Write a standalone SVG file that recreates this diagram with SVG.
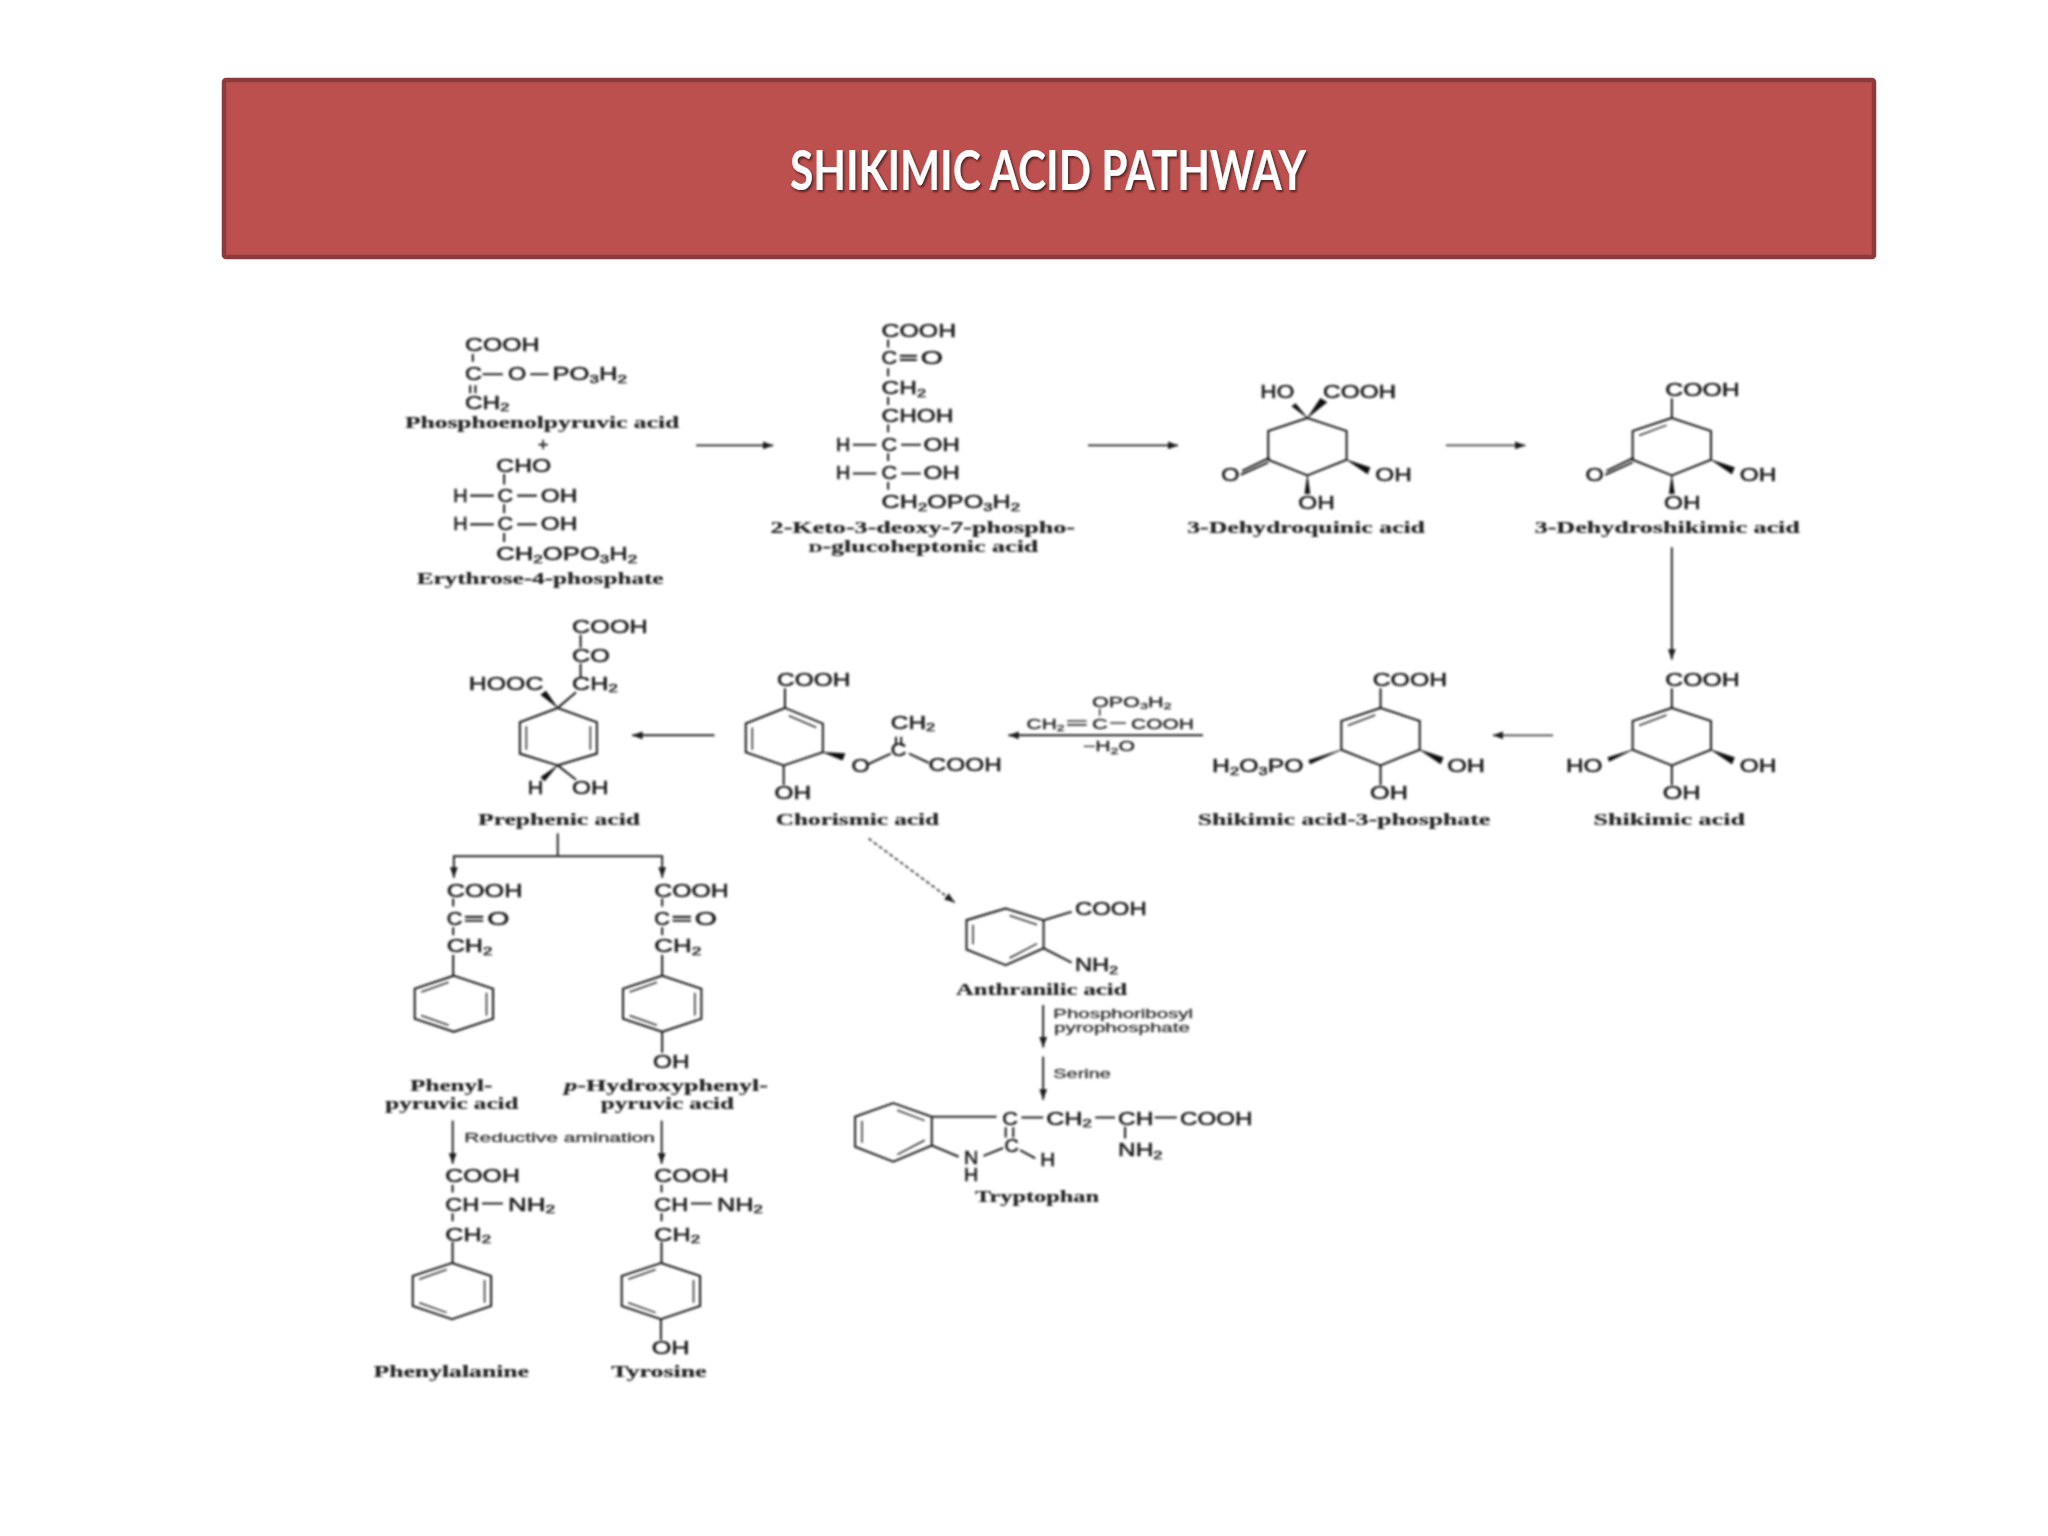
<svg xmlns="http://www.w3.org/2000/svg" width="2048" height="1536" viewBox="0 0 2048 1536">
<style>
.f{font-family:"Liberation Sans",Arial,sans-serif;font-size:13.5px;fill:#1c1c1c;stroke:#1c1c1c;stroke-width:.4px}
.m{font-family:"Liberation Sans",Arial,sans-serif;font-size:10.5px;fill:#222;stroke:#222;stroke-width:.25px}
.a{font-family:"Liberation Sans",Arial,sans-serif;font-size:9.5px;fill:#333;stroke:#333;stroke-width:.25px}
.l{font-family:"Liberation Serif","Times New Roman",serif;font-weight:700;font-size:13.5px;fill:#222;stroke:#222;stroke-width:.15px}
.b{fill:none;stroke:#222;stroke-width:1.6}
.t{fill:none;stroke:#333;stroke-width:1.2}
.w{fill:#111;stroke:#111;stroke-width:.4}
.c{fill:none;stroke:#222;stroke-width:1.5}
.g{fill:none;stroke:#444;stroke-width:1.4}
.title{font-family:Lato,"Open Sans",sans-serif;font-weight:700;font-size:56px;fill:#fff}
</style>
<defs>
<filter id="soft" x="-5%" y="-5%" width="110%" height="110%"><feGaussianBlur stdDeviation="0.7"/></filter>
<filter id="sh" x="-5%" y="-20%" width="110%" height="140%"><feDropShadow dx="1.5" dy="2" stdDeviation="1" flood-color="#3a1010" flood-opacity=".8"/></filter>
<marker id="ah" markerUnits="userSpaceOnUse" markerWidth="9" markerHeight="7" refX="8" refY="3" orient="auto"><path d="M0 0L8 3L0 6Z" fill="#1c1c1c"/></marker>
<polygon id="ring" class="b" points="0,0 30,10 30,32 0,44 -30,32 -30,10"/>
<path id="enedb" class="t" d="M-4 5.500L-25 13.500"/>
<g id="phenyl"><polygon class="b" points="0,0 30,10 30,33 0,43 -30,33 -30,10"/><path class="t" d="M-4 5L-25 12.500M25 13V30.500M-4 38L-25 30.500"/></g>
</defs>
<rect width="2048" height="1536" fill="#fff"/>
<g id="banner">
<rect x="224" y="80" width="1650" height="177" rx="2" fill="#BC504E" stroke="#8C3A3B" stroke-width="4.5"/>
<text class="title" x="790" y="190" textLength="516" lengthAdjust="spacingAndGlyphs" filter="url(#sh)">SHIKIMIC ACID PATHWAY</text>
</g>
<g transform="scale(1.3061)" filter="url(#soft)">
<g id="connectors">
<path class="c" d="M533 341H592" marker-end="url(#ah)"/>
<path class="c" d="M833 341H902" marker-end="url(#ah)"/>
<path class="g" d="M1107 341H1168" marker-end="url(#ah)"/>
<path class="c" d="M1280 419V505" marker-end="url(#ah)"/>
<path class="g" d="M1189 563H1143" marker-end="url(#ah)"/>
<path class="c" d="M921 563H772" marker-end="url(#ah)"/>
<path class="c" d="M547 563H484" marker-end="url(#ah)"/>
<path class="c" d="M427 638V655.500"/>
<path class="c" d="M427 655.500H347.500V672" marker-end="url(#ah)"/>
<path class="c" d="M427 655.500H507V672" marker-end="url(#ah)"/>
<path class="g" stroke-dasharray="3 2" d="M665 642L731 691" marker-end="url(#ah)"/>
<path class="c" d="M346.600 858V891" marker-end="url(#ah)"/>
<path class="c" d="M506.600 858V891" marker-end="url(#ah)"/>
<path class="c" d="M798.700 769.500V802" marker-end="url(#ah)"/>
<path class="c" d="M798.700 809V842" marker-end="url(#ah)"/>
</g>
<g id="pep">
<path class="b" d="M362 271V277M360 295V301M364 295V301M369.500 286.500H385M406 286.500H420"/>
<text class="f" x="356" y="269" textLength="57" lengthAdjust="spacingAndGlyphs">COOH</text>
<text class="f" x="356" y="291" textLength="13" lengthAdjust="spacingAndGlyphs">C</text>
<text class="f" x="389" y="291" textLength="14" lengthAdjust="spacingAndGlyphs">O</text>
<text class="f" x="423" y="291" textLength="57" lengthAdjust="spacingAndGlyphs">PO<tspan font-size="9" dy="2">3</tspan><tspan dy="-2">H</tspan><tspan font-size="9" dy="2">2</tspan></text>
<text class="f" x="356" y="313" textLength="34" lengthAdjust="spacingAndGlyphs">CH<tspan font-size="9" dy="2">2</tspan></text>
<text class="l" x="310" y="328" textLength="210" lengthAdjust="spacingAndGlyphs">Phosphoenolpyruvic acid</text>
<text class="f" x="412" y="345" font-size="11">+</text>
</g>
<g id="e4p">
<path class="b" d="M386 363V371M386 386V393M386 408V415M360 379.500H378M396 379.500H411M360 401.500H378M396 401.500H411"/>
<text class="f" x="380" y="361" textLength="42" lengthAdjust="spacingAndGlyphs">CHO</text>
<text class="f" x="347" y="384" textLength="11" lengthAdjust="spacingAndGlyphs">H</text>
<text class="f" x="381" y="384" textLength="12" lengthAdjust="spacingAndGlyphs">C</text>
<text class="f" x="414" y="384" textLength="28" lengthAdjust="spacingAndGlyphs">OH</text>
<text class="f" x="347" y="406" textLength="11" lengthAdjust="spacingAndGlyphs">H</text>
<text class="f" x="381" y="406" textLength="12" lengthAdjust="spacingAndGlyphs">C</text>
<text class="f" x="414" y="406" textLength="28" lengthAdjust="spacingAndGlyphs">OH</text>
<text class="f" x="380" y="429" textLength="108" lengthAdjust="spacingAndGlyphs">CH<tspan font-size="9" dy="2">2</tspan><tspan dy="-2">OPO</tspan><tspan font-size="9" dy="2">3</tspan><tspan dy="-2">H</tspan><tspan font-size="9" dy="2">2</tspan></text>
<text class="l" x="319" y="447" textLength="189" lengthAdjust="spacingAndGlyphs">Erythrose-4-phosphate</text>
</g>
<g id="kdpg">
<path class="b" d="M680 260V266M689 272.500H702M689 275.500H702M680 282V288M680 304V310M680 325V331M680 347V353M680 369V375M653 340.500H671M690 340.500H705M653 362.500H671M690 362.500H705"/>
<text class="f" x="675" y="258" textLength="57" lengthAdjust="spacingAndGlyphs">COOH</text>
<text class="f" x="675" y="279" textLength="12" lengthAdjust="spacingAndGlyphs">C</text>
<text class="f" x="705" y="279" textLength="17" lengthAdjust="spacingAndGlyphs">O</text>
<text class="f" x="675" y="302" textLength="34" lengthAdjust="spacingAndGlyphs">CH<tspan font-size="9" dy="2">2</tspan></text>
<text class="f" x="675" y="323" textLength="55" lengthAdjust="spacingAndGlyphs">CHOH</text>
<text class="f" x="640" y="345" textLength="11" lengthAdjust="spacingAndGlyphs">H</text>
<text class="f" x="675" y="345" textLength="12" lengthAdjust="spacingAndGlyphs">C</text>
<text class="f" x="707" y="345" textLength="28" lengthAdjust="spacingAndGlyphs">OH</text>
<text class="f" x="640" y="367" textLength="11" lengthAdjust="spacingAndGlyphs">H</text>
<text class="f" x="675" y="367" textLength="12" lengthAdjust="spacingAndGlyphs">C</text>
<text class="f" x="707" y="367" textLength="28" lengthAdjust="spacingAndGlyphs">OH</text>
<text class="f" x="675" y="389" textLength="106" lengthAdjust="spacingAndGlyphs">CH<tspan font-size="9" dy="2">2</tspan><tspan dy="-2">OPO</tspan><tspan font-size="9" dy="2">3</tspan><tspan dy="-2">H</tspan><tspan font-size="9" dy="2">2</tspan></text>
<text class="l" x="590" y="408" textLength="233" lengthAdjust="spacingAndGlyphs">2-Keto-3-deoxy-7-phospho-</text>
<text class="l" x="619" y="423" textLength="176" lengthAdjust="spacingAndGlyphs"><tspan font-size="10">D</tspan>-glucoheptonic acid</text>
</g>
<g id="dehydroquinic">
<use href="#ring" x="1001" y="320"/>
<path class="w" d="M1001 320L992 309L989 311ZM1001 320L1016 308L1011 305Z"/>
<path class="w" d="M1031 352L1049 358L1047 363ZM1001 364L1003 378H999Z"/>
<path class="b" d="M972 350.500L951 360.500M971 354L950 363.500"/>
<text class="f" x="965" y="305" textLength="26" lengthAdjust="spacingAndGlyphs">HO</text>
<text class="f" x="1013" y="305" textLength="56" lengthAdjust="spacingAndGlyphs">COOH</text>
<text class="f" x="935" y="368" textLength="14" lengthAdjust="spacingAndGlyphs">O</text>
<text class="f" x="1053" y="368" textLength="28" lengthAdjust="spacingAndGlyphs">OH</text>
<text class="f" x="994" y="390" textLength="28" lengthAdjust="spacingAndGlyphs">OH</text>
<text class="l" x="909" y="408" textLength="182" lengthAdjust="spacingAndGlyphs">3-Dehydroquinic acid</text>
</g>
<g id="dehydroshikimic">
<use href="#ring" x="1280" y="320"/><use href="#enedb" x="1280" y="320"/>
<path class="b" d="M1280 320V305"/>
<path class="w" d="M1310 352L1328 358L1326 363ZM1280 364L1282 378H1278Z"/>
<path class="b" d="M1251 350.500L1230 360.500M1250 354L1229 363.500"/>
<text class="f" x="1275" y="303" textLength="57" lengthAdjust="spacingAndGlyphs">COOH</text>
<text class="f" x="1214" y="368" textLength="14" lengthAdjust="spacingAndGlyphs">O</text>
<text class="f" x="1332" y="368" textLength="28" lengthAdjust="spacingAndGlyphs">OH</text>
<text class="f" x="1274" y="390" textLength="28" lengthAdjust="spacingAndGlyphs">OH</text>
<text class="l" x="1175" y="408" textLength="203" lengthAdjust="spacingAndGlyphs">3-Dehydroshikimic acid</text>
</g>
<g id="shikimic">
<use href="#ring" x="1280" y="542"/><use href="#enedb" x="1280" y="542"/>
<path class="b" d="M1280 542V527M1280 586V601"/>
<path class="w" d="M1310 574L1328 580L1326 585ZM1250 574L1232 583L1231 580Z"/>
<text class="f" x="1275" y="525" textLength="57" lengthAdjust="spacingAndGlyphs">COOH</text>
<text class="f" x="1199" y="591" textLength="28" lengthAdjust="spacingAndGlyphs">HO</text>
<text class="f" x="1332" y="591" textLength="28" lengthAdjust="spacingAndGlyphs">OH</text>
<text class="f" x="1273" y="612" textLength="29" lengthAdjust="spacingAndGlyphs">OH</text>
<text class="l" x="1220" y="632" textLength="116" lengthAdjust="spacingAndGlyphs">Shikimic acid</text>
</g>
<g id="shikimate3p">
<use href="#ring" x="1057" y="542"/><use href="#enedb" x="1057" y="542"/>
<path class="b" d="M1057 542V527M1057 586V601"/>
<path class="w" d="M1087 574L1105 580L1103 585ZM1027 574L1003 585L1002 582Z"/>
<text class="f" x="1051" y="525" textLength="57" lengthAdjust="spacingAndGlyphs">COOH</text>
<text class="f" x="928" y="591" textLength="70" lengthAdjust="spacingAndGlyphs">H<tspan font-size="9" dy="2">2</tspan><tspan dy="-2">O</tspan><tspan font-size="9" dy="2">3</tspan><tspan dy="-2">PO</tspan></text>
<text class="f" x="1108" y="591" textLength="29" lengthAdjust="spacingAndGlyphs">OH</text>
<text class="f" x="1049" y="612" textLength="29" lengthAdjust="spacingAndGlyphs">OH</text>
<text class="l" x="917" y="632" textLength="224" lengthAdjust="spacingAndGlyphs">Shikimic acid-3-phosphate</text>
</g>
<g id="reagent">
<path class="t" d="M842 542.500V548M817 552H832M817 555H832M850 553.500H862"/>
<text class="m" x="836" y="541" textLength="61" lengthAdjust="spacingAndGlyphs">OPO<tspan font-size="7" dy="2">3</tspan><tspan dy="-2">H</tspan><tspan font-size="7" dy="2">2</tspan></text>
<text class="m" x="786" y="558" textLength="29" lengthAdjust="spacingAndGlyphs">CH<tspan font-size="7" dy="2">2</tspan></text>
<text class="m" x="836" y="558" textLength="12" lengthAdjust="spacingAndGlyphs">C</text>
<text class="m" x="866" y="558" textLength="48" lengthAdjust="spacingAndGlyphs">COOH</text>
<text class="m" x="829" y="575" textLength="40" lengthAdjust="spacingAndGlyphs">−H<tspan font-size="7" dy="2">2</tspan><tspan dy="-2">O</tspan></text>
</g>
<g id="chorismic">
<polygon class="b" points="601,542 630,554 630,576 600,586 571,576 571,554"/>
<path class="t" d="M604 548L625 557M576 557V574"/>
<path class="b" d="M601 527V542M600 586V601M665 585L682 577M696 577L711 584M686 564V571M690 564V571"/>
<path class="w" d="M630 576L647 577L645 582Z"/>
<text class="f" x="595" y="525" textLength="56" lengthAdjust="spacingAndGlyphs">COOH</text>
<text class="f" x="593" y="612" textLength="28" lengthAdjust="spacingAndGlyphs">OH</text>
<text class="f" x="652" y="591" textLength="14" lengthAdjust="spacingAndGlyphs">O</text>
<text class="f" x="682" y="579" textLength="12" lengthAdjust="spacingAndGlyphs">C</text>
<text class="f" x="682" y="558" textLength="34" lengthAdjust="spacingAndGlyphs">CH<tspan font-size="9" dy="2">2</tspan></text>
<text class="f" x="711" y="590" textLength="56" lengthAdjust="spacingAndGlyphs">COOH</text>
<text class="l" x="594" y="632" textLength="125" lengthAdjust="spacingAndGlyphs">Chorismic acid</text>
</g>
<g id="prephenic">
<polygon class="b" points="427,542 457,553 457,577 427,586 398,577 398,553"/>
<path class="t" d="M403 556V574M452 556V574"/>
<path class="b" d="M444.500 486V496M444.500 508V519M427 542L441 530M427 586L441 597"/>
<path class="w" d="M427 542L418 529L414 532ZM427 586L417 598L414 595Z"/>
<text class="f" x="438" y="485" textLength="58" lengthAdjust="spacingAndGlyphs">COOH</text>
<text class="f" x="438" y="507" textLength="29" lengthAdjust="spacingAndGlyphs">CO</text>
<text class="f" x="438" y="528" textLength="35" lengthAdjust="spacingAndGlyphs">CH<tspan font-size="9" dy="2">2</tspan></text>
<text class="f" x="359" y="528" textLength="57" lengthAdjust="spacingAndGlyphs">HOOC</text>
<text class="f" x="404" y="608" textLength="12" lengthAdjust="spacingAndGlyphs">H</text>
<text class="f" x="438" y="608" textLength="28" lengthAdjust="spacingAndGlyphs">OH</text>
<text class="l" x="366" y="632" textLength="124" lengthAdjust="spacingAndGlyphs">Prephenic acid</text>
</g>
<g id="phenylpyruvic">
<use href="#phenyl" x="347.500" y="747"/>
<path class="b" d="M347 688V694M347 710V716M347 731V747M356 702H370M356 705H370"/>
<text class="f" x="342" y="687" textLength="58" lengthAdjust="spacingAndGlyphs">COOH</text>
<text class="f" x="342" y="708" textLength="12" lengthAdjust="spacingAndGlyphs">C</text>
<text class="f" x="373" y="708" textLength="17" lengthAdjust="spacingAndGlyphs">O</text>
<text class="f" x="342" y="729" textLength="35" lengthAdjust="spacingAndGlyphs">CH<tspan font-size="9" dy="2">2</tspan></text>
<text class="l" x="314" y="835" textLength="63" lengthAdjust="spacingAndGlyphs">Phenyl-</text>
<text class="l" x="295" y="849" textLength="102" lengthAdjust="spacingAndGlyphs">pyruvic acid</text>
</g>
<g id="hydroxyphenylpyruvic">
<use href="#phenyl" x="507" y="747"/>
<path class="b" d="M507 688V694M507 710V716M507 731V747M507 790V806M515 702H529M515 705H529"/>
<text class="f" x="501" y="687" textLength="57" lengthAdjust="spacingAndGlyphs">COOH</text>
<text class="f" x="501" y="708" textLength="12" lengthAdjust="spacingAndGlyphs">C</text>
<text class="f" x="532" y="708" textLength="17" lengthAdjust="spacingAndGlyphs">O</text>
<text class="f" x="501" y="729" textLength="36" lengthAdjust="spacingAndGlyphs">CH<tspan font-size="9" dy="2">2</tspan></text>
<text class="f" x="500" y="818" textLength="28" lengthAdjust="spacingAndGlyphs">OH</text>
<text class="l" x="432" y="835" textLength="156" lengthAdjust="spacingAndGlyphs"><tspan font-style="italic">p</tspan>-Hydroxyphenyl-</text>
<text class="l" x="460" y="849" textLength="102" lengthAdjust="spacingAndGlyphs">pyruvic acid</text>
</g>
<text id="reductive" class="a" x="355.500" y="874" textLength="146" lengthAdjust="spacingAndGlyphs">Reductive amination</text>
<g id="phenylalanine">
<use href="#phenyl" x="346" y="967"/>
<path class="b" d="M346.500 907V913M346.500 929V935M346.500 951V967M369 921.500H385"/>
<text class="f" x="341" y="905" textLength="57" lengthAdjust="spacingAndGlyphs">COOH</text>
<text class="f" x="341" y="927" textLength="26" lengthAdjust="spacingAndGlyphs">CH</text>
<text class="f" x="389" y="927" textLength="36" lengthAdjust="spacingAndGlyphs">NH<tspan font-size="9" dy="2">2</tspan></text>
<text class="f" x="341" y="950" textLength="35" lengthAdjust="spacingAndGlyphs">CH<tspan font-size="9" dy="2">2</tspan></text>
<text class="l" x="286" y="1054" textLength="119" lengthAdjust="spacingAndGlyphs">Phenylalanine</text>
</g>
<g id="tyrosine">
<use href="#phenyl" x="506" y="967"/>
<path class="b" d="M506.500 907V913M506.500 929V935M506.500 951V967M506 1010V1026M529 921.500H545"/>
<text class="f" x="501" y="905" textLength="57" lengthAdjust="spacingAndGlyphs">COOH</text>
<text class="f" x="501" y="927" textLength="26" lengthAdjust="spacingAndGlyphs">CH</text>
<text class="f" x="549" y="927" textLength="35" lengthAdjust="spacingAndGlyphs">NH<tspan font-size="9" dy="2">2</tspan></text>
<text class="f" x="501" y="950" textLength="35" lengthAdjust="spacingAndGlyphs">CH<tspan font-size="9" dy="2">2</tspan></text>
<text class="f" x="499" y="1037" textLength="29" lengthAdjust="spacingAndGlyphs">OH</text>
<text class="l" x="468" y="1054" textLength="73" lengthAdjust="spacingAndGlyphs">Tyrosine</text>
</g>
<g id="anthranilic">
<polygon class="b" points="770,695.500 799,704.500 799,726 770,739 740,727 740,704.500"/>
<path class="t" d="M773 701L794 708M794 722.500L773 733.500M745 708V723"/>
<path class="b" d="M799 704.500L820.500 698M799 726L820.500 737"/>
<text class="f" x="823" y="700.500" textLength="55" lengthAdjust="spacingAndGlyphs">COOH</text>
<text class="f" x="823" y="743.500" textLength="33" lengthAdjust="spacingAndGlyphs">NH<tspan font-size="9" dy="2">2</tspan></text>
<text class="l" x="732" y="762" textLength="131" lengthAdjust="spacingAndGlyphs">Anthranilic acid</text>
<text class="a" x="806.500" y="779.500" textLength="107" lengthAdjust="spacingAndGlyphs">Phosphoribosyl</text>
<text class="a" x="807" y="790" textLength="104" lengthAdjust="spacingAndGlyphs">pyrophosphate</text>
<text class="a" x="806.500" y="825" textLength="44" lengthAdjust="spacingAndGlyphs">Serine</text>
</g>
<g id="tryptophan">
<polygon class="b" points="684,844.600 713.400,855 713.400,877 684,889.400 654.700,878 654.700,855"/>
<path class="t" d="M687 850L708 858M708 873L687 884M660 858V875"/>
<path class="b" d="M713.400 855H763M713.400 877L734 885.600M753 885L768 879M781 880.600L792.600 886.800M782 855.600H798.700M838.600 855.600H853.700M884 855.600H901M861.400 862.600V871.600M770 863V871M775.800 863V871"/>
<text class="f" x="767.400" y="861" textLength="12" lengthAdjust="spacingAndGlyphs">C</text>
<text class="f" x="801" y="861" textLength="35" lengthAdjust="spacingAndGlyphs">CH<tspan font-size="9" dy="2">2</tspan></text>
<text class="f" x="856" y="861" textLength="27" lengthAdjust="spacingAndGlyphs">CH</text>
<text class="f" x="903.500" y="861" textLength="55.500" lengthAdjust="spacingAndGlyphs">COOH</text>
<text class="f" x="856" y="885" textLength="34" lengthAdjust="spacingAndGlyphs">NH<tspan font-size="9" dy="2">2</tspan></text>
<text class="f" x="769" y="882" textLength="11" lengthAdjust="spacingAndGlyphs">C</text>
<text class="f" x="738" y="891" font-size="11" textLength="11" lengthAdjust="spacingAndGlyphs">N</text>
<text class="f" x="738" y="904" font-size="11" textLength="11" lengthAdjust="spacingAndGlyphs">H</text>
<text class="f" x="796.500" y="893" textLength="11.500" lengthAdjust="spacingAndGlyphs">H</text>
<text class="l" x="746.500" y="920" textLength="95" lengthAdjust="spacingAndGlyphs">Tryptophan</text>
</g>
</g>
</svg>
